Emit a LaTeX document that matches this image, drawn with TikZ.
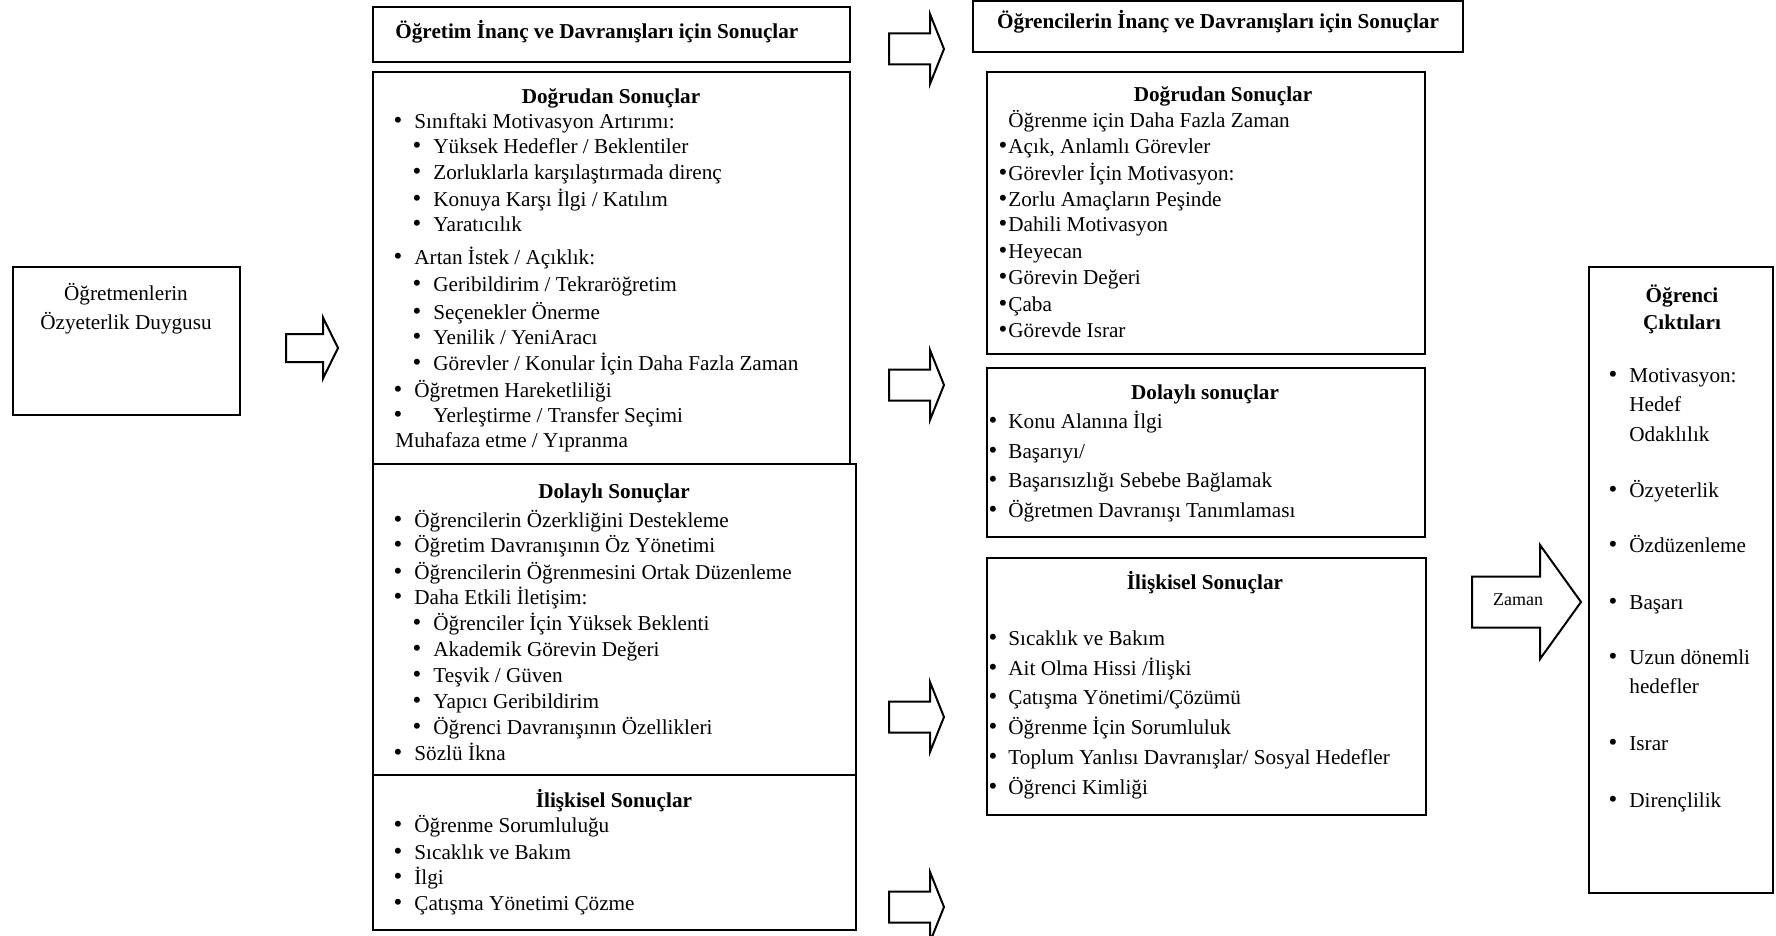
\documentclass[tikz,border=0pt]{standalone}
\usepackage{fontspec}
\setmainfont{Liberation Serif}
\usetikzlibrary{fit}

\begin{document}
\begin{tikzpicture}[x=0.5pt, y=-0.5pt,
        box/.style={draw, line width=1.3pt, inner sep=0pt},
        barrow/.style={draw, line width=1pt, fill=white, line join=miter},
        txt/.style={font=\fontsize{10.6}{13}\selectfont, yshift=-3.5pt, inner sep=0pt},
        txtb/.style={txt, font=\fontsize{10.6}{13}\selectfont\bfseries},
        itm/.style={anchor=base west},
        bul/.style={anchor=base, font=\fontsize{12.5}{13}\selectfont}]
        \useasboundingbox (0,0) rectangle (1776,936);

        % left box
        \node[box, fit={(13,267) (240,415)}] (self) {};
        \node[txt, anchor=base] (selfa) at (126,293) {Öğretmenlerin};
        \node[txt, anchor=base] (selfb) at (126,322) {Özyeterlik Duygusu};

        \coordinate (a0) at (286,348);
        \draw[barrow] (a0) ++(0,-14) -- ++(37,0) -- ++(0,-16.5) -- ++(15,30.5) -- ++(-15,30.5) -- ++(0,-16.5) -- ++(-37,0) -- cycle;

        % teacher column
        \node[box, fit={(373,7) (850,62)}] (ttl) {};
        \node[box, fit={(373,72) (850,464)}] (tdir) {};
        \node[box, fit={(373,464) (856,775)}] (tind) {};
        \node[box, fit={(373,775) (856,930)}] (trel) {};
        \node[txtb, itm] (ttlt) at (395,32) {Öğretim İnanç ve Davranışları için Sonuçlar};

        \node[txtb, anchor=base] (tdirh) at (611,97) {Doğrudan Sonuçlar};
        \foreach \yy/\lbl [count=\k] in {122/{Sınıftaki Motivasyon Artırımı:}, 257/{Artan İstek / Açıklık:}, 390/{Öğretmen Hareketliliği}} {
            \node[txt, bul] (tdirb\k) at (398,\yy) {•};
            \node[txt, itm] (tdiri\k) at (414,\yy) {\lbl};
        }
        \foreach \yy/\lbl [count=\k] in {147/{Yüksek Hedefler / Beklentiler}, 173/{Zorluklarla karşılaştırmada direnç}, 199/{Konuya Karşı İlgi / Katılım}, 225/{Yaratıcılık}, 285/{Geribildirim / Tekraröğretim}, 312/{Seçenekler Önerme}, 337/{Yenilik / YeniAracı}, 363/{Görevler / Konular İçin Daha Fazla Zaman}} {
            \node[txt, bul] (tdirc\k) at (417,\yy) {•};
            \node[txt, itm] (tdirs\k) at (433,\yy) {\lbl};
        }
        \node[txt, bul] (tdirb4) at (398,415) {•};
        \node[txt, itm] (tdiri4) at (433,415) {Yerleştirme / Transfer Seçimi};
        \node[txt, itm] (tdiri5) at (395,440) {Muhafaza etme / Yıpranma};

        \node[txtb, anchor=base] (tindh) at (614,491) {Dolaylı Sonuçlar};
        \foreach \yy/\lbl [count=\k] in {520/{Öğrencilerin Özerkliğini Destekleme}, 545/{Öğretim Davranışının Öz Yönetimi}, 572/{Öğrencilerin Öğrenmesini Ortak Düzenleme}, 597/{Daha Etkili İletişim:}, 753/{Sözlü İkna}} {
            \node[txt, bul] (tindb\k) at (398,\yy) {•};
            \node[txt, itm] (tindi\k) at (414,\yy) {\lbl};
        }
        \foreach \yy/\lbl [count=\k] in {623/{Öğrenciler İçin Yüksek Beklenti}, 649/{Akademik Görevin Değeri}, 675/{Teşvik / Güven}, 701/{Yapıcı Geribildirim}, 727/{Öğrenci Davranışının Özellikleri}} {
            \node[txt, bul] (tindc\k) at (417,\yy) {•};
            \node[txt, itm] (tinds\k) at (433,\yy) {\lbl};
        }

        \node[txtb, anchor=base] (trelh) at (614,800) {İlişkisel Sonuçlar};
        \foreach \yy/\lbl [count=\k] in {825/{Öğrenme Sorumluluğu}, 852/{Sıcaklık ve Bakım}, 877/{İlgi}, 903/{Çatışma Yönetimi Çözme}} {
            \node[txt, bul] (trelb\k) at (398,\yy) {•};
            \node[txt, itm] (treli\k) at (414,\yy) {\lbl};
        }

        \foreach \yy [count=\k] in {49,385,717,907} {
            \coordinate (m\k) at (889,\yy);
            \draw[barrow] (m\k) ++(0,-15.5) -- ++(41,0) -- ++(0,-19.5) -- ++(14,35) -- ++(-14,35) -- ++(0,-19.5) -- ++(-41,0) -- cycle;
        }

        % student column
        \node[box, fit={(973,1) (1463,52)}] (sttl) {};
        \node[box, fit={(987,72) (1425,354)}] (sdir) {};
        \node[box, fit={(987,368) (1425,537)}] (sind) {};
        \node[box, fit={(987,558) (1426,815)}] (srel) {};
        \node[txtb, anchor=base] (sttlt) at (1218,22) {Öğrencilerin İnanç ve Davranışları için Sonuçlar};

        \node[txtb, anchor=base] (sdirh) at (1223,95) {Doğrudan Sonuçlar};
        \node[txt, itm] (sdiri0) at (1008,121) {Öğrenme için Daha Fazla Zaman};
        \foreach \yy/\lbl [count=\k] in {147/{Açık, Anlamlı Görevler}, 174/{Görevler İçin Motivasyon:}, 199/{Zorlu Amaçların Peşinde}, 225/{Dahili Motivasyon}, 251/{Heyecan}, 278/{Görevin Değeri}, 304/{Çaba}, 330/{Görevde Israr}} {
            \node[txt, bul] (sdirb\k) at (1003,\yy) {•};
            \node[txt, itm] (sdiri\k) at (1008,\yy) {\lbl};
        }

        \node[txtb, anchor=base] (sindh) at (1205,392) {Dolaylı sonuçlar};
        \foreach \yy/\lbl [count=\k] in {421/{Konu Alanına İlgi}, 451/{Başarıyı/}, 480/{Başarısızlığı Sebebe Bağlamak}, 510/{Öğretmen Davranışı Tanımlaması}} {
            \node[txt, bul] (sindb\k) at (993,\yy) {•};
            \node[txt, itm] (sindi\k) at (1008,\yy) {\lbl};
        }

        \node[txtb, anchor=base] (srelh) at (1205,582) {İlişkisel Sonuçlar};
        \foreach \yy/\lbl [count=\k] in {638/{Sıcaklık ve Bakım}, 668/{Ait Olma Hissi /İlişki}, 697/{Çatışma Yönetimi/Çözümü}, 727/{Öğrenme İçin Sorumluluk}, 757/{Toplum Yanlısı Davranışlar/ Sosyal Hedefler}, 787/{Öğrenci Kimliği}} {
            \node[txt, bul] (srelb\k) at (993,\yy) {•};
            \node[txt, itm] (sreli\k) at (1008,\yy) {\lbl};
        }

        % time arrow and outcomes
        \coordinate (zt) at (1472,602);
        \draw[barrow] (zt) ++(0,-25.5) -- ++(68,0) -- ++(0,-31.5) -- ++(41,57) -- ++(-41,57) -- ++(0,-31.5) -- ++(-68,0) -- cycle;
        \node[font=\fontsize{9}{11}\selectfont, inner sep=0pt] (zlbl) at (1518,600) {Zaman};

        \node[box, fit={(1589,267) (1773,893)}] (outc) {};
        \node[txtb, anchor=base] (outca) at (1682,295) {Öğrenci};
        \node[txtb, anchor=base] (outcb) at (1682,322) {Çıktıları};
        \foreach \yy/\lbl [count=\k] in {375/{Motivasyon:}, 490/{Özyeterlik}, 545/{Özdüzenleme}, 602/{Başarı}, 657/{Uzun dönemli}, 743/{Israr}, 800/{Dirençlilik}} {
            \node[txt, bul] (outb\k) at (1613,\yy) {•};
            \node[txt, itm] (outi\k) at (1629,\yy) {\lbl};
        }
        \node[txt, itm] (outc1) at (1629,404) {Hedef};
        \node[txt, itm] (outc2) at (1629,434) {Odaklılık};
        \node[txt, itm] (outc3) at (1629,686) {hedefler};
\end{tikzpicture}
\end{document}
